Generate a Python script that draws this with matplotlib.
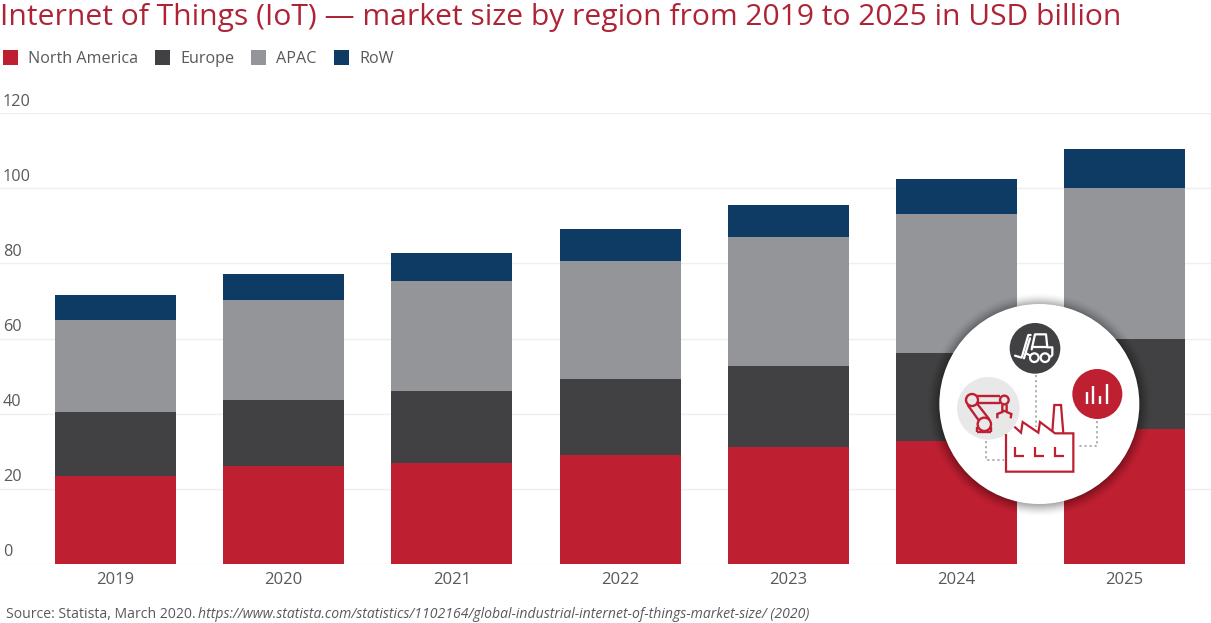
import matplotlib
matplotlib.use("Agg")
import matplotlib.pyplot as plt
import numpy as np
from matplotlib.patches import Circle, Rectangle

W, H = 1211, 623

years = ["2019", "2020", "2021", "2022", "2023", "2024", "2025"]
north_america = [23.4, 26.0, 26.9, 29.0, 31.1, 32.7, 35.9]
europe = [17.0, 17.6, 19.1, 20.2, 21.6, 23.4, 24.0]
apac = [24.5, 26.6, 29.3, 31.4, 34.3, 37.0, 40.1]
row = [6.7, 7.0, 7.5, 8.5, 8.5, 9.3, 10.4]

series = [
    ("North America", north_america, "#be2032"),
    ("Europe", europe, "#414042"),
    ("APAC", apac, "#939598"),
    ("RoW", row, "#0d3b63"),
]
y_ticks = [0, 20, 40, 60, 80, 100, 120]

TITLE_RED = "#ae2436"
TEXT = "#58595b"
RED = "#be2032"

plt.rcParams["font.family"] = ["Open Sans", "DejaVu Sans"]

fig = plt.figure(figsize=(W / 100, H / 100), dpi=100)


def px_axes(x0, y0, x1, y1):
    # axes placed by pixel box, y counted from the top of the image
    return fig.add_axes([x0 / W, 1 - y1 / H, (x1 - x0) / W, (y1 - y0) / H])


def px_text(x, y, s, **kw):
    return fig.text(x / W, 1 - y / H, s, **kw)


# --- main chart ---
ax = px_axes(0, 113, W, 564)
x = np.arange(len(years))
bottom = np.zeros(len(years))
for name, vals, col in series:
    ax.bar(x, vals, width=0.72, bottom=bottom, color=col, zorder=3)
    bottom += np.array(vals)

ax.set_xlim(-0.687, 6.514)
ax.set_ylim(0, 120)
ax.set_yticks(y_ticks)
ax.set_yticklabels([])
ax.set_xticks(x)
ax.set_xticklabels(years, fontsize=12, color=TEXT)
ax.tick_params(axis="both", length=0)
ax.tick_params(axis="x", pad=6)
ax.grid(True, axis="y", color="#efefef", linewidth=1, zorder=0)
for s in ax.spines.values():
    s.set_visible(False)

# y labels sit above the gridlines at the left edge
for t in y_ticks:
    px_text(3, 564 - t * 451 / 120 - 3.5, str(t),
            fontsize=11.7, color=TEXT, ha="left", va="bottom")

# --- title, legend, source ---
px_text(0, 25, "Internet of Things (IoT) — market size by region from 2019 to 2025 in USD billion",
        fontsize=21.65, color=TITLE_RED, ha="left", va="baseline")

legend_x = [3, 155, 251, 334]
for (name, vals, col), lx in zip(series, legend_x):
    fig.patches.append(Rectangle((lx / W, 1 - 65 / H), 15 / W, 15 / H,
                                 transform=fig.transFigure, facecolor=col, edgecolor="none"))
    px_text(lx + 25, 59, name, fontsize=11.6, color=TEXT, ha="left", va="center")

px_text(6, 615, "Source: Statista, March 2020.", fontsize=10.1, color=TEXT, ha="left", va="center")
px_text(198, 615, "https://www.statista.com/statistics/1102164/global-industrial-internet-of-things-market-size/ (2020)",
        fontsize=10.1, color=TEXT, style="italic", ha="left", va="center")

# --- inset graphic, drawn in 3x coordinates of the pixel box ---
ic = px_axes(920, 290, 1160, 520)
ic.set_xlim(0, 720)
ic.set_ylim(690, 0)
ic.axis("off")
ic.patch.set_alpha(0)
ic.set_zorder(5)

for r, a in zip(np.arange(335, 300, -3), np.linspace(0.008, 0.05, 12)):
    ic.add_patch(Circle((358, 344), r, facecolor="black", alpha=a, edgecolor="none"))
ic.add_patch(Circle((358, 342), 300, facecolor="white", edgecolor="none"))
ic.add_patch(Circle((345, 175), 76, facecolor="#414042", edgecolor="none"))
ic.add_patch(Circle((532, 312), 75, facecolor=RED, edgecolor="none"))
ic.add_patch(Circle((205, 355), 94, facecolor="#e8e8e8", edgecolor="none"))

dots = dict(color="#a7a9ac", lw=1.3, linestyle=(0, (1.2, 1.6)))
ic.plot([347, 347], [255, 410], **dots)
ic.plot([532, 532, 475], [392, 467, 467], **dots)
ic.plot([197, 197, 252], [452, 510, 510], **dots)

# factory
fac = dict(color=RED, lw=1.6, solid_joinstyle="miter", solid_capstyle="butt")
ic.plot([258, 258, 460, 460, 405, 360, 355, 308, 303, 283], [432, 545, 545, 430, 430, 396, 428, 396, 428, 410], **fac)
ic.plot([397, 403, 423, 430], [425, 345, 345, 430], **fac)
for wx in [285, 345, 405]:
    ic.plot([wx, wx, wx + 27], [470, 497, 497], **fac)

# bar chart icon
for bx, top in zip([500, 520, 541, 560], [305, 288, 318, 282]):
    ic.plot([bx, bx], [top, 343], color="white", lw=1.7, solid_capstyle="butt")

# forklift
fk = dict(color="white", lw=1.6, solid_capstyle="round", solid_joinstyle="round")
ic.plot([285, 305, 325, 332], [197, 203, 135, 135], **fk)
ic.plot([312, 330], [205, 145], **fk)
ic.plot([335, 345, 378, 382, 397, 397, 392], [178, 133, 133, 172, 172, 195, 200], **fk)
ic.plot([335, 382], [172, 172], **fk)
ic.plot([318, 330], [190, 196], **fk)
for wx in [343, 375]:
    ic.add_patch(Circle((wx, 203), 13, facecolor="none", edgecolor="white", lw=1.6))

# robot arm
rb = dict(color=RED, lw=1.7, solid_capstyle="butt", solid_joinstyle="miter")
ic.add_patch(Circle((156, 330), 18, facecolor="none", edgecolor=RED, lw=1.7))
ic.add_patch(Circle((253, 330), 13, facecolor="none", edgecolor=RED, lw=1.7))
ic.add_patch(Circle((193, 403), 20, facecolor="none", edgecolor=RED, lw=1.7))
ic.plot([172, 240], [319, 319], **rb)
ic.plot([174, 240], [338, 338], **rb)
ic.plot([143, 177], [345, 392], **rb)
ic.plot([172, 208], [342, 388], **rb)
ic.plot([172, 172], [412, 425], **rb)
ic.plot([212, 212], [410, 425], **rb)
ic.plot([172, 212], [425, 425], **rb)
ic.plot([247, 247, 232, 232], [344, 366, 372, 385], **rb)
ic.plot([260, 260, 274, 272], [344, 366, 372, 385], **rb)
ic.plot([247, 260], [362, 362], **rb)

fig.savefig("out.png", dpi=100)
